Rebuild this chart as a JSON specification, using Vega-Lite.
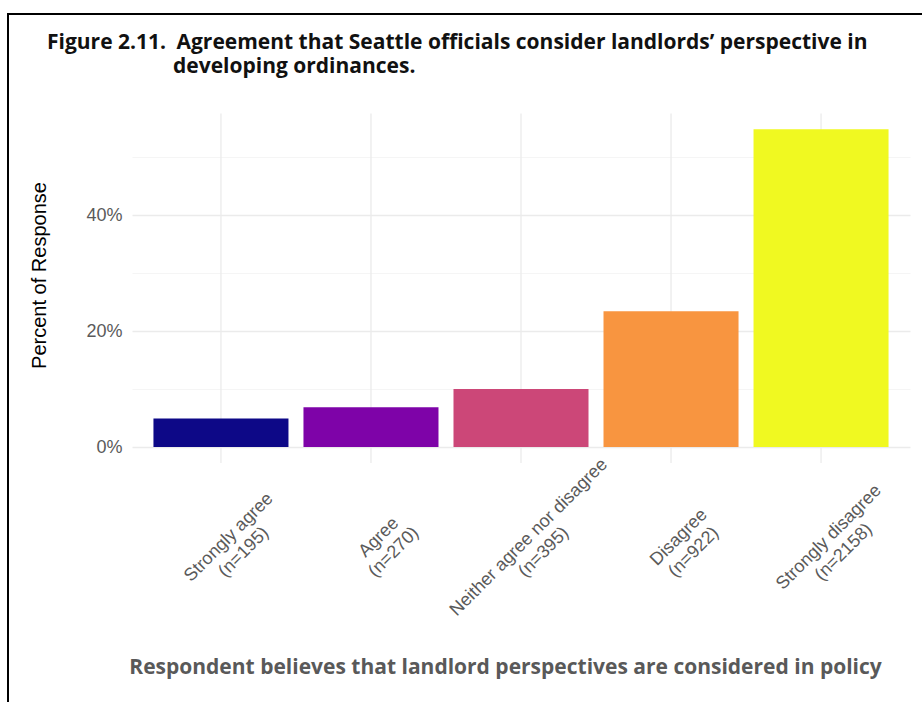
{
  "$schema": "https://vega.github.io/schema/vega-lite/v6.json",
  "autosize": {"type": "none"},
  "padding": {"left": 8, "top": 14, "right": -2, "bottom": -2},
  "width": 916,
  "height": 690,
  "background": "white",
  "config": {
    "view": {"stroke": "#000000", "strokeWidth": 2, "fill": "white"},
    "font": "Liberation Sans"
  },
  "title": {
    "text": ["Figure 2.11.\u2002Agreement that Seattle officials consider landlords’ perspective in", "\u200B\u2003\u2003\u2003\u2003\u2003\u2003developing ordinances."],
    "anchor": "start",
    "frame": "group",
    "font": "Open Sans",
    "fontSize": 21,
    "fontWeight": "bold",
    "color": "#111111",
    "lineHeight": 24,
    "dx": 39,
    "dy": 67
  },
  "data": {
    "values": [
      {"response": "Strongly agree\n(n=195)", "pct": 4.95},
      {"response": "Agree\n(n=270)", "pct": 6.85},
      {"response": "Neither agree nor disagree\n(n=395)", "pct": 10.03},
      {"response": "Disagree\n(n=922)", "pct": 23.40},
      {"response": "Strongly disagree\n(n=2158)", "pct": 54.77}
    ]
  },
  "encoding": {
    "x": {
      "field": "response",
      "type": "nominal",
      "sort": null,
      "scale": {"range": [124, 902], "paddingInner": 0.1, "paddingOuter": 0.143},
      "axis": {
        "orient": "bottom",
        "offset": -241,
        "domain": false,
        "ticks": false,
        "grid": false,
        "labelExpr": "split(datum.value, '\\n')",
        "labelAngle": -45,
        "labelAlign": "center",
        "labelBaseline": "middle",
        "labelPadding": 74,
        "labelOffset": 8,
        "labelFont": "Liberation Sans",
        "labelFontSize": 18,
        "labelLineHeight": 21,
        "labelColor": "#5A5A5A",
        "labelOverlap": false,
        "labelLimit": 0,
        "title": "Respondent believes that landlord perspectives are considered in policy",
        "titleFont": "Open Sans",
        "titleFontSize": 21,
        "titleFontWeight": "bold",
        "titleColor": "#595959",
        "titleX": 497,
        "titleY": 204,
        "titleAlign": "center",
        "titleBaseline": "middle"
      }
    },
    "y": {
      "field": "pct",
      "type": "quantitative",
      "scale": {"domain": [-2.74, 57.5], "range": [449, 99.5], "nice": false, "zero": false},
      "axis": {
        "orient": "left",
        "offset": -124,
        "domain": false,
        "ticks": false,
        "values": [0, 10, 20, 30, 40, 50],
        "labelExpr": "datum.value % 20 === 0 ? datum.value + '%' : ''",
        "labelFont": "Liberation Sans",
        "labelFontSize": 18,
        "labelColor": "#5A5A5A",
        "labelPadding": 10,
        "grid": true,
        "gridColor": {"condition": {"test": "datum.value % 20 === 0", "value": "#EBEBEB"}, "value": "#F2F2F2"},
        "gridWidth": {"condition": {"test": "datum.value % 20 === 0", "value": 1.3}, "value": 0.8},
        "title": "Percent of Response",
        "titleFont": "Liberation Sans",
        "titleFontSize": 20,
        "titleFontWeight": "normal",
        "titleColor": "#000000",
        "titleAngle": -90,
        "titleX": -93,
        "titleY": 261,
        "titleAlign": "center",
        "titleBaseline": "middle"
      }
    }
  },
  "layer": [
    {
      "mark": {"type": "rule", "color": "#EBEBEB", "strokeWidth": 1.3},
      "encoding": {
        "y": {"datum": -2.74, "type": "quantitative"},
        "y2": {"datum": 57.5}
      }
    },
    {
      "mark": {"type": "bar"},
      "encoding": {
        "y2": {"datum": 0},
        "color": {
          "field": "response",
          "type": "nominal",
          "sort": null,
          "scale": {"range": ["#0D0887", "#7E03A8", "#CC4778", "#F89540", "#F0F921"]},
          "legend": null
        }
      }
    }
  ]
}
